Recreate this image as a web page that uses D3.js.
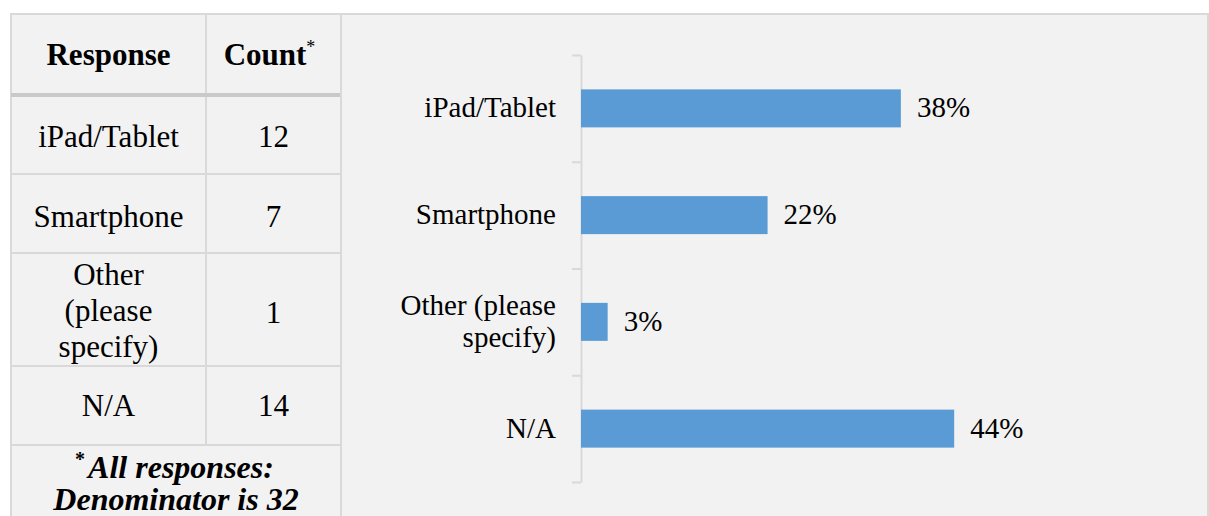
<!DOCTYPE html>
<html>
<head>
<meta charset="utf-8">
<script src="https://cdn.jsdelivr.net/npm/d3@7"></script>
<style>
  html, body { margin: 0; padding: 0; background: #ffffff; }
</style>
</head>
<body>
<svg id="chart" width="1209" height="516"></svg>
<script>
// ---- data ----
const categories = ["iPad/Tablet", "Smartphone", "Other (please specify)", "N/A"];
const counts = [12, 7, 1, 14];
const denominator = 32;
const shares = [0.375, 0.21875, 0.03125, 0.4375];
const valueLabels = ["38%", "22%", "3%", "44%"];
const tableLabelLines = [["iPad/Tablet"], ["Smartphone"], ["Other", "(please", "specify)"], ["N/A"]];
const chartLabelLines = [["iPad/Tablet"], ["Smartphone"], ["Other (please", "specify)"], ["N/A"]];
const tableHeaders = ["Response", "Count"];
const footnoteLines = ["All responses:", "Denominator is 32"];

const FONT = '"Liberation Serif"';
const svg = d3.select("#chart");
const bg = "#f2f2f2", grid = "#d9d9d9", barColor = "#5b9bd5";
const TS = 31, CS = 29, FS = 32;

// ---- table ----
const colX = [11, 206, 341];
const rowY = [14, 95, 174, 253, 366, 445, 530];
const tbl = svg.append("g");

for (let r = 0; r < rowY.length - 1; r++) {
  if (r === rowY.length - 2) {
    tbl.append("rect").attr("x", colX[0]).attr("y", rowY[r]).attr("width", colX[2] - colX[0])
      .attr("height", rowY[r + 1] - rowY[r]).attr("fill", bg).attr("stroke", grid).attr("stroke-width", 2);
  } else {
    for (let c = 0; c < 2; c++) {
      tbl.append("rect").attr("x", colX[c]).attr("y", rowY[r]).attr("width", colX[c + 1] - colX[c])
        .attr("height", rowY[r + 1] - rowY[r]).attr("fill", bg).attr("stroke", grid).attr("stroke-width", 2);
    }
  }
}
tbl.append("line").attr("x1", colX[0]).attr("x2", colX[2]).attr("y1", rowY[1]).attr("y2", rowY[1])
  .attr("stroke", "#c9c9c9").attr("stroke-width", 4);

const cx1 = (colX[0] + colX[1]) / 2, cx2 = (colX[1] + colX[2]) / 2;
tbl.append("text").attr("x", cx1).attr("y", 65).attr("text-anchor", "middle").style("font-family", FONT)
  .attr("font-size", TS).attr("font-weight", "bold").attr("fill", "#000").text(tableHeaders[0]);
const ch = tbl.append("text").attr("x", cx2 - 4).attr("y", 65).attr("text-anchor", "middle").style("font-family", FONT)
  .attr("font-size", TS).attr("font-weight", "bold").attr("fill", "#000");
ch.append("tspan").text(tableHeaders[1]);
ch.append("tspan").attr("dy", -12).attr("font-size", 18).attr("font-weight", "normal").text("*");

const bodyBaselines = [[147], [227], [285, 321, 357], [416]];
const countBaselines = [147, 227, 323, 416];
categories.forEach((cat, i) => {
  const t = tbl.append("text").attr("text-anchor", "middle").style("font-family", FONT).attr("font-size", TS).attr("fill", "#000");
  tableLabelLines[i].forEach((ln, j) => {
    t.append("tspan").attr("x", cx1).attr("y", bodyBaselines[i][j]).text(ln);
  });
  tbl.append("text").attr("x", cx2).attr("y", countBaselines[i]).attr("text-anchor", "middle").style("font-family", FONT)
    .attr("font-size", TS).attr("fill", "#000").text(counts[i]);
});

// footnote (one text, two lines)
const fcx = (colX[0] + colX[2]) / 2;
const f1 = tbl.append("text").attr("text-anchor", "middle").style("font-family", FONT)
  .attr("font-size", FS).attr("font-weight", "bold").attr("font-style", "italic").attr("fill", "#000");
f1.append("tspan").attr("x", fcx - 96).attr("y", 466).attr("font-size", 20).attr("font-style", "normal").text("*");
f1.append("tspan").attr("x", fcx + 5).attr("y", 478).text(footnoteLines[0]);
f1.append("tspan").attr("x", fcx).attr("y", 510).text(footnoteLines[1]);

// ---- chart panel ----
svg.append("rect").attr("x", 341).attr("y", 14).attr("width", 867).attr("height", 520)
  .attr("fill", bg).attr("stroke", grid).attr("stroke-width", 2);

const x0 = 581;
const x = d3.scaleLinear().domain([0, 0.5]).range([x0, x0 + 426.5]);
const y = d3.scaleBand().domain(categories).range([55, 482]).paddingInner(0.644).paddingOuter(0.322);
const yEdges = d3.scaleLinear().domain([0, categories.length]).range([55, 482]);

const axis = d3.axisLeft(yEdges).tickValues(d3.range(categories.length + 1)).tickSize(9)
  .tickFormat("").tickSizeOuter(0);
const ag = svg.append("g").attr("transform", `translate(${x0},0)`).call(axis);
ag.selectAll("path, line").attr("stroke", grid).attr("stroke-width", 2);

const g = svg.append("g");
g.selectAll("rect.bar").data(categories).join("rect").attr("class", "bar")
  .attr("x", x(0)).attr("y", d => y(d)).attr("height", y.bandwidth())
  .attr("width", (d, i) => x(shares[i]) - x(0)).attr("fill", barColor);

g.selectAll("text.val").data(categories).join("text").attr("class", "val")
  .attr("x", (d, i) => x(shares[i]) + 16).attr("y", d => y(d) + y.bandwidth() / 2 + 9)
  .style("font-family", FONT).attr("font-size", CS).attr("fill", "#000").text((d, i) => valueLabels[i]);

categories.forEach((cat, i) => {
  const lines = chartLabelLines[i];
  const cy = y(cat) + y.bandwidth() / 2 + 9;
  const lh = 32;
  const t = g.append("text").attr("text-anchor", "end").style("font-family", FONT).attr("font-size", CS).attr("fill", "#000");
  lines.forEach((ln, j) => {
    t.append("tspan").attr("x", 556).attr("y", cy + (j - (lines.length - 1) / 2) * lh).text(ln);
  });
});
</script>
</body>
</html>
